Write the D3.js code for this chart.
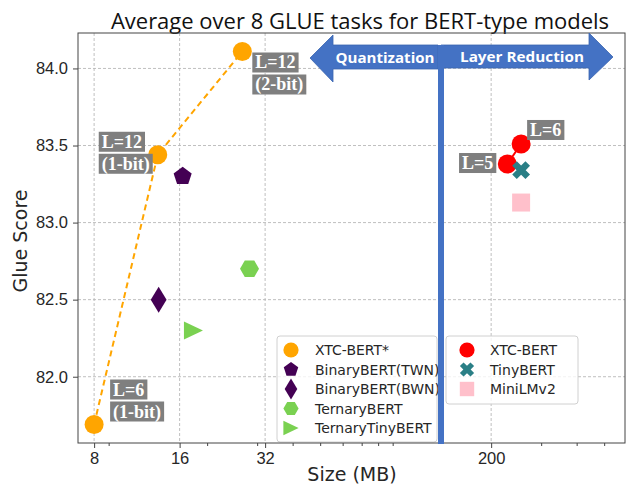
<!DOCTYPE html>
<html lang="en">
<head>
<meta charset="UTF-8">
<title>Average over 8 GLUE tasks for BERT-type models</title>
<script src="https://cdn.jsdelivr.net/npm/d3@7"></script>
<style>
  body { margin: 0; background: #fff; }
  svg { display: block; font-family: "DejaVu Sans", sans-serif; }
  .grid line { stroke: #b8b8b8; stroke-dasharray: 3,2; stroke-width: 0.9; }
  .tick text { font-size: 16.5px; fill: #262626; }
  .tick line { stroke: #444; }
  .domain { display: none; }
  .tag { font-family: "Liberation Serif", serif; font-weight: bold; font-size: 18px; fill: #fff; }
  .legend text { font-size: 14px; fill: #262626; }
  .arrow-label { font-family: "Open Sans", sans-serif; font-weight: bold; font-size: 15px; fill: #fff; }
</style>
</head>
<body>
<script>
// values
const xTicks = [8, 16, 32, 200];
const yTicks = [82.0, 82.5, 83.0, 83.5, 84.0];

const xtcStarSize = [8, 13.4, 26.6];
const xtcStarScore = [81.69, 83.44, 84.11];
const xtcStarTags = [["L=6", "(1-bit)"], ["L=12", "(1-bit)"], ["L=12", "(2-bit)"]];

const binaryTwnSize = [16.4];
const binaryTwnScore = [83.30];
const binaryBwnSize = [13.5];
const binaryBwnScore = [82.50];
const ternarySize = [28.2];
const ternaryScore = [82.70];
const ternaryTinySize = [17.9];
const ternaryTinyScore = [82.30];

const xtcSize = [228, 255];
const xtcScore = [83.38, 83.51];
const xtcTags = [["L=5"], ["L=6"]];
const tinySize = [255];
const tinyScore = [83.34];
const miniSize = [255];
const miniScore = [83.13];

const W = 629, H = 489;
const pLeft = 78, pRight = 625, pTop = 33, pBottom = 443;

const svg = d3.select("body").append("svg")
  .attr("width", W).attr("height", H);

const x = d3.scaleLog().base(2).domain([7.02, 592]).range([pLeft, pRight]);
const y = d3.scaleLinear().domain([81.57, 84.23]).range([pBottom, pTop]);

// grid
const grid = svg.append("g").attr("class", "grid");
grid.selectAll(".gx").data(xTicks).enter().append("line")
  .attr("x1", d => x(d)).attr("x2", d => x(d))
  .attr("y1", pTop).attr("y2", pBottom);
grid.selectAll(".gy").data(yTicks).enter().append("line")
  .attr("x1", pLeft).attr("x2", pRight)
  .attr("y1", d => y(d)).attr("y2", d => y(d));

// axes
const minor = [];
[1, 10, 100].forEach(k => d3.range(2, 10).forEach(s => {
  const v = s * k;
  if (v > 7.02 && v < 592 && !xTicks.includes(v)) minor.push(v);
}));

svg.append("g").attr("transform", `translate(0,${pBottom})`)
  .call(d3.axisBottom(x).tickValues(minor).tickSize(3).tickFormat(""));
svg.append("g").attr("transform", `translate(0,${pBottom})`)
  .call(d3.axisBottom(x).tickValues(xTicks).tickSize(5).tickPadding(4).tickFormat(d3.format("d")));
svg.append("g").attr("transform", `translate(${pLeft},0)`)
  .call(d3.axisLeft(y).tickValues(yTicks).tickSize(5).tickPadding(5).tickFormat(d3.format(".1f")));

svg.append("text").attr("x", 352).attr("y", 481).attr("text-anchor", "middle")
  .style("font-size", "19px").attr("fill", "#262626").text("Size (MB)");
svg.append("text").attr("transform", "translate(27,241) rotate(-90)").attr("text-anchor", "middle")
  .style("font-size", "19px").attr("fill", "#262626").text("Glue Score");

svg.append("text").attr("x", 360).attr("y", 29).attr("text-anchor", "middle")
  .style("font-family", "'Open Sans', sans-serif").style("font-size", "22px")
  .attr("fill", "#111").text("Average over 8 GLUE tasks for BERT-type models");

// marker shapes
function poly(n, r, rot) {
  return d3.range(n).map(i => {
    const a = rot + i * 2 * Math.PI / n;
    return [r * Math.sin(a), -r * Math.cos(a)];
  });
}
const closed = d3.line().curve(d3.curveLinearClosed);
function marker(shape, s) {
  switch (shape) {
    case "circle": return d3.symbol(d3.symbolCircle, Math.PI * s * s)();
    case "pentagon": return closed(poly(5, s, 0));
    case "hexagon": return closed(poly(6, s, Math.PI / 2));
    case "diamond": return closed([[0, -s * 1.4], [s * 0.85, 0], [0, s * 1.4], [-s * 0.85, 0]]);
    case "triangle": return closed([[s, 0], [-s, -s * 0.95], [-s, s * 0.95]]);
    case "square": return closed([[-s, -s], [s, -s], [s, s], [-s, s]]);
    case "cross": {
      const a = s * 0.38, b = s * 1.1;
      const pts = [[-a, -b], [a, -b], [a, -a], [b, -a], [b, a], [a, a], [a, b], [-a, b], [-a, a], [-b, a], [-b, -a], [-a, -a]];
      const c = Math.SQRT1_2;
      return closed(pts.map(([px, py]) => [c * (px - py), c * (px + py)]));
    }
  }
}

const series = [
  { name: "XTC-BERT*", size: xtcStarSize, score: xtcStarScore, shape: "circle", r: 9.5, color: "#ffa500", line: "dash" },
  { name: "BinaryBERT(TWN)", size: binaryTwnSize, score: binaryTwnScore, shape: "pentagon", r: 9.5, color: "#440154" },
  { name: "BinaryBERT(BWN)", size: binaryBwnSize, score: binaryBwnScore, shape: "diamond", r: 9.3, color: "#440154" },
  { name: "TernaryBERT", size: ternarySize, score: ternaryScore, shape: "hexagon", r: 9.5, color: "#7ad151" },
  { name: "TernaryTinyBERT", size: ternaryTinySize, score: ternaryTinyScore, shape: "triangle", r: 9.5, color: "#7ad151" },
  { name: "XTC-BERT", size: xtcSize, score: xtcScore, shape: "circle", r: 9.5, color: "#ff0000", line: "solid" },
  { name: "TinyBERT", size: tinySize, score: tinyScore, shape: "cross", r: 8.5, color: "#2a7f86" },
  { name: "MiniLMv2", size: miniSize, score: miniScore, shape: "square", r: 9, color: "#ffc0cb" }
];

const lineGen = d3.line().x(d => x(d[0])).y(d => y(d[1]));
series.filter(s => s.line).forEach(s => {
  svg.append("path")
    .attr("d", lineGen(d3.zip(s.size, s.score)))
    .attr("fill", "none").attr("stroke", s.color).attr("stroke-width", 2)
    .attr("stroke-dasharray", s.line === "dash" ? "6,4" : null);
});

series.forEach(s => {
  svg.append("g").selectAll("path").data(d3.zip(s.size, s.score)).enter().append("path")
    .attr("transform", d => `translate(${x(d[0])},${y(d[1])})`)
    .attr("d", marker(s.shape, s.r)).attr("fill", s.color);
});

// legends
function legend(items, x0, y0, w, h, mx, tx) {
  const g = svg.append("g").attr("class", "legend");
  g.append("rect").attr("x", x0).attr("y", y0).attr("width", w).attr("height", h)
    .attr("rx", 3).attr("fill", "#fff").attr("fill-opacity", 0.8)
    .attr("stroke", "#d0d0d0").attr("stroke-width", 1);
  items.forEach((s, i) => {
    const cy = y0 + 14 + i * 19.5;
    g.append("path").attr("transform", `translate(${mx},${cy})`)
      .attr("d", marker(s.shape, s.r * 0.8)).attr("fill", s.color);
    g.append("text").attr("x", tx).attr("y", cy + 5).text(s.name);
  });
}
legend(series.slice(0, 5), 277, 336, 160, 106, 291, 315);
legend(series.slice(5), 446, 336, 132, 68, 467, 490);

// grey tags
function tag(lines, bx, by, anchorRight) {
  const g = svg.append("g");
  lines.forEach((t, i) => {
    const ty = by + i * 22;
    const txt = g.append("text").attr("class", "tag").text(t);
    const w = txt.node().getComputedTextLength() + 6;
    const x0 = anchorRight ? bx - w : bx;
    g.insert("rect", "text").attr("x", x0).attr("y", ty).attr("width", w).attr("height", 20)
      .attr("fill", "#7f7f7f");
    txt.attr("x", x0 + 3).attr("y", ty + 16);
  });
}
const starOffsets = [[16, -45, false], [-59, -23, false], [10, 1, false]];
xtcStarTags.forEach((t, i) => {
  const [dx, dy, ar] = starOffsets[i];
  tag(t, x(xtcStarSize[i]) + dx, y(xtcStarScore[i]) + dy, ar);
});
const xtcOffsets = [[-11, -11, true], [6, -24, false]];
xtcTags.forEach((t, i) => {
  const [dx, dy, ar] = xtcOffsets[i];
  tag(t, x(xtcSize[i]) + dx, y(xtcScore[i]) + dy, ar);
});

// frame
svg.append("rect").attr("x", pLeft).attr("y", pTop).attr("width", pRight - pLeft).attr("height", pBottom - pTop)
  .attr("fill", "none").attr("stroke", "#444").attr("stroke-width", 1);

// quantization / layer reduction arrows
const blue = "#4472c4";
svg.append("path").attr("d", closed([[310, 58], [333, 35], [333, 45], [438, 45], [438, 69], [333, 69], [333, 82]]))
  .attr("fill", blue).attr("stroke", "#3a64b0").attr("stroke-width", 0.8);
svg.append("path").attr("d", closed([[441, 45], [589, 45], [589, 33], [613, 57], [589, 80], [589, 68], [441, 68]]))
  .attr("fill", blue).attr("stroke", "#3a64b0").attr("stroke-width", 0.8);
svg.append("text").attr("class", "arrow-label").attr("x", 385).attr("y", 63).attr("text-anchor", "middle")
  .attr("textLength", 99).attr("lengthAdjust", "spacingAndGlyphs").text("Quantization");
svg.append("text").attr("class", "arrow-label").attr("x", 522).attr("y", 62).attr("text-anchor", "middle")
  .attr("textLength", 124).attr("lengthAdjust", "spacingAndGlyphs").text("Layer Reduction");
svg.append("line").attr("x1", 441).attr("x2", 441).attr("y1", 45).attr("y2", pBottom + 1)
  .attr("stroke", blue).attr("stroke-width", 6);
</script>
</body>
</html>
